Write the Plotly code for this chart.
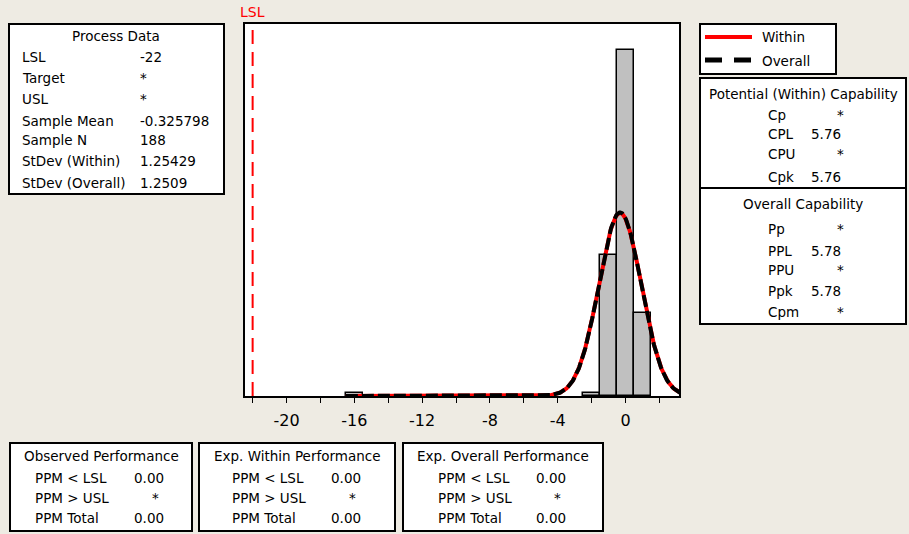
import numpy as np
import plotly.graph_objects as go

W, H = 909, 534
BG = "#EEEBE3"
FONT = "DejaVu Sans"

# ---------------- data ----------------
bin_centers = [-16, -2, -1, 0, 1]
bin_counts = [1, 1, 46, 113, 27]
bin_width = 1.0
lsl = -22
sample_mean = -0.325798
sample_n = 188
stdev_within = 1.25429
stdev_overall = 1.2509
x_tick_vals = [-20, -16, -12, -8, -4, 0]
x_tick_text = ["-20", "-16", "-12", "-8", "-4", "0"]

process_labels = ["LSL", "Target", "USL", "Sample Mean", "Sample N",
                  "StDev (Within)", "StDev (Overall)"]
process_values = ["-22", "*", "*", "-0.325798", "188", "1.25429", "1.2509"]
within_labels = ["Cp", "CPL", "CPU", "Cpk"]
within_values = ["*", "5.76", "*", "5.76"]
overall_labels = ["Pp", "PPL", "PPU", "Ppk", "Cpm"]
overall_values = ["*", "5.78", "*", "5.78", "*"]
perf_labels = ["PPM < LSL", "PPM > USL", "PPM Total"]
observed_values = ["0.00", "*", "0.00"]
exp_within_values = ["0.00", "*", "0.00"]
exp_overall_values = ["0.00", "*", "0.00"]

# ---------------- helpers ----------------
def px(x):
    return x / W

def py(y):
    return 1 - y / H

PLOT_L, PLOT_R, PLOT_T, PLOT_B = 245, 679, 24, 396
TS = 13.5

fig = go.Figure()

# histogram bars
fig.add_trace(go.Bar(
    x=bin_centers, y=bin_counts, width=bin_width,
    marker=dict(color="#C0C0C0", line=dict(color="black", width=1.5)),
    showlegend=False, hoverinfo="skip"))

# fitted normal curves
xs = np.linspace(-16.5, 3.3, 500)
def normal_curve(sd):
    return sample_n * bin_width * np.exp(-0.5 * ((xs - sample_mean) / sd) ** 2) / (sd * np.sqrt(2 * np.pi))

fig.add_trace(go.Scatter(x=xs, y=normal_curve(stdev_within), mode="lines",
                         line=dict(color="#FF0000", width=4), showlegend=False, hoverinfo="skip"))
fig.add_trace(go.Scatter(x=xs, y=normal_curve(stdev_overall), mode="lines",
                         line=dict(color="black", width=4, dash="12px,4px"), showlegend=False, hoverinfo="skip"))

shapes = []
annotations = []

# LSL line
shapes.append(dict(type="line", xref="x", yref="paper", x0=lsl, x1=lsl,
                   y0=py(PLOT_B), y1=py(PLOT_T + 4),
                   line=dict(color="#FF0000", width=2, dash="14px,8px"), layer="above"))
annotations.append(dict(text="LSL", xref="x", yref="paper", x=lsl, y=py(12),
                        showarrow=False, xanchor="center", yanchor="middle",
                        font=dict(family=FONT, size=14, color="#FF0000")))

def box(x0, y0, x1, y1):
    shapes.append(dict(type="rect", xref="paper", yref="paper",
                       x0=px(x0), x1=px(x1), y0=py(y1), y1=py(y0),
                       line=dict(color="black", width=2), fillcolor="white", layer="below"))

def text(t, x, y, anchor="left", size=TS, color="black"):
    annotations.append(dict(text=t, xref="paper", yref="paper", x=px(x), y=py(y),
                            showarrow=False, xanchor=anchor, yanchor="middle",
                            font=dict(family=FONT, size=size, color=color)))

# Process Data box
box(9, 24, 224, 194)
text("Process Data", 116, 36, "center")
proc_y = [57, 78, 99, 121, 140, 161, 183]
for lab, val, yy in zip(process_labels, process_values, proc_y):
    text(lab, 20, yy)
    text(val, 138, yy)

# Legend box
box(700, 24, 836, 74)
shapes.append(dict(type="line", xref="paper", yref="paper", x0=px(705), x1=px(752),
                   y0=py(37), y1=py(37), line=dict(color="#FF0000", width=4)))
shapes.append(dict(type="line", xref="paper", yref="paper", x0=px(705), x1=px(752),
                   y0=py(60), y1=py(60), line=dict(color="black", width=5, dash="17px,12px")))
text("Within", 760, 37)
text("Overall", 760, 61)

# Potential (Within) Capability
box(700, 78, 906, 188)
text("Potential (Within) Capability", 803, 94, "center")
for lab, val, yy in zip(within_labels, within_values, [115, 134, 154, 177]):
    text(lab, 766, yy)
    if val == "*":
        text(val, 840, yy, "center")
    else:
        text(val, 809, yy)

# Overall Capability
box(700, 188, 906, 324)
text("Overall Capability", 803, 204, "center")
for lab, val, yy in zip(overall_labels, overall_values, [229, 251, 270, 291, 312]):
    text(lab, 766, yy)
    if val == "*":
        text(val, 840, yy, "center")
    else:
        text(val, 809, yy)

# Bottom performance boxes
perf_boxes = [
    (10, 192, "Observed Performance", observed_values, 33, 166),
    (199, 395, "Exp. Within Performance", exp_within_values, 230, 363),
    (403, 603, "Exp. Overall Performance", exp_overall_values, 436, 568),
]
for x0, x1, title, vals, lx, vx in perf_boxes:
    box(x0, 443, x1, 531)
    text(title, (x0 + x1) / 2, 456, "center")
    for lab, val, yy in zip(perf_labels, vals, [478, 498, 518]):
        text(lab, lx, yy)
        if val == "*":
            text(val, vx - 5, yy, "right")
        else:
            text(val, vx, yy, "right")

fig.update_layout(
    width=W, height=H,
    margin=dict(l=0, r=0, t=0, b=0),
    paper_bgcolor=BG, plot_bgcolor="white",
    shapes=shapes, annotations=annotations,
    bargap=0, showlegend=False,
    font=dict(family=FONT, color="black"),
    xaxis=dict(domain=[px(PLOT_L), px(PLOT_R)], range=[-22.45, 3.15],
               showgrid=False, zeroline=False,
               showline=True, linecolor="black", linewidth=2, mirror=True,
               ticks="outside", ticklen=5, tickcolor="black", tickwidth=1,
               tickmode="array", tickvals=x_tick_vals, ticktext=x_tick_text,
               tickfont=dict(family=FONT, size=16, color="black"),
               ticklabelstandoff=4,
               minor=dict(dtick=2, tick0=0, ticks="outside", ticklen=5,
                          tickcolor="black", tickwidth=1, showgrid=False)),
    yaxis=dict(domain=[py(PLOT_B), py(PLOT_T)], range=[0, 121.5],
               showgrid=False, zeroline=False, showticklabels=False, ticks="",
               showline=True, linecolor="black", linewidth=2, mirror=True),
)

fig.write_html("out.html")
